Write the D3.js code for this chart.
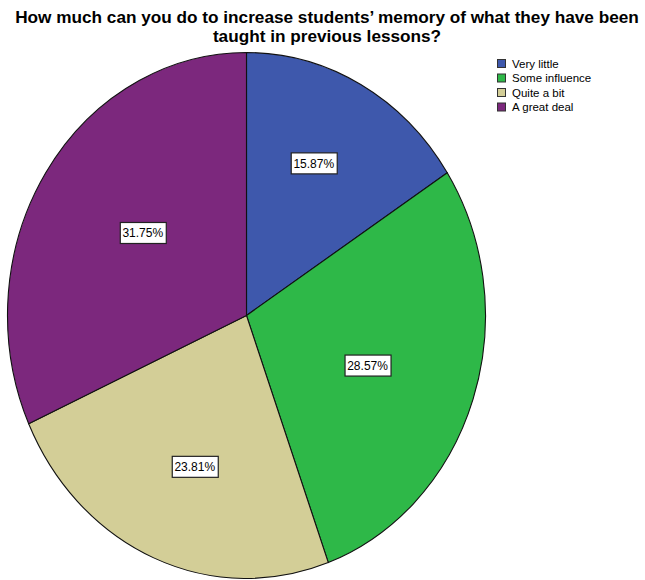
<!DOCTYPE html>
<html>
<head>
<meta charset="utf-8">
<script src="https://cdn.jsdelivr.net/npm/d3@7"></script>
<style>
  html, body { margin: 0; padding: 0; background: #fff; }
  svg { display: block; font-family: "Liberation Sans", Arial, sans-serif; }
</style>
</head>
<body>
<svg id="chart" width="645" height="580"></svg>
<script>
// Survey responses (percent of respondents)
const categories = ["Very little", "Some influence", "Quite a bit", "A great deal"];
const percents = [15.87, 28.57, 23.81, 31.75];
const colors = ["#3E58AC", "#2EB848", "#D3CE97", "#7C287D"];
const titleLines = [
  "How much can you do to increase students\u2019 memory of what they have been",
  "taught in previous lessons?"
];

const svg = d3.select("#chart");

// Title
svg.append("g").selectAll("text")
  .data(titleLines)
  .join("text")
  .attr("x", 327)
  .attr("y", (d, i) => 23 + i * 19)
  .attr("text-anchor", "middle")
  .attr("font-size", 17.2)
  .attr("font-weight", "bold")
  .attr("fill", "#000")
  .text(d => d);

// Pie (drawn as a circle, stretched vertically into an ellipse)
const cx = 246.5, cy = 315.5, rx = 239, ry = 263;
const sy = ry / rx;

const pie = d3.pie().sort(null).value(d => d)
  .startAngle(0).endAngle(2 * Math.PI);
const arcs = pie(percents);
const arc = d3.arc().innerRadius(0).outerRadius(rx);

const pieG = svg.append("g")
  .attr("transform", `translate(${cx},${cy}) scale(1,${sy})`);

pieG.selectAll("path")
  .data(arcs)
  .join("path")
  .attr("d", arc)
  .attr("fill", (d, i) => colors[i])
  .attr("stroke", "#111")
  .attr("stroke-width", 1.1)
  .attr("vector-effect", "non-scaling-stroke");

// Percentage labels in white boxes, placed near each sector's area centroid
const kx = 0.92, ky = 1.03;
const labelG = svg.append("g").attr("transform", `translate(${cx},${cy})`);
const labels = labelG.selectAll("g")
  .data(arcs)
  .join("g")
  .attr("transform", d => {
    const a = (d.startAngle + d.endAngle) / 2;
    const h = (d.endAngle - d.startAngle) / 2;
    const c = (2 / 3) * Math.sin(h) / h;
    const x = Math.sin(a) * rx * c * kx;
    const y = -Math.cos(a) * ry * c * ky;
    return `translate(${x},${y})`;
  });

labels.append("text")
  .attr("text-anchor", "middle")
  .attr("dy", "0.36em")
  .attr("font-size", 12)
  .attr("fill", "#000")
  .text(d => d.data.toFixed(2) + "%");

labels.each(function() {
  const g = d3.select(this);
  const bb = g.select("text").node().getBBox();
  g.insert("rect", "text")
    .attr("x", Math.round(bb.x) - 2.5)
    .attr("y", -10.5)
    .attr("width", Math.round(bb.width) + 5)
    .attr("height", 21)
    .attr("fill", "#fff")
    .attr("stroke", "#222")
    .attr("stroke-width", 1.2);
});

// Legend
const legend = svg.append("g").attr("transform", "translate(497,59)");
const rows = legend.selectAll("g")
  .data(categories)
  .join("g")
  .attr("transform", (d, i) => `translate(0,${i * 14.5})`);

rows.append("rect")
  .attr("x", 0.5).attr("y", 0.5)
  .attr("width", 8).attr("height", 8)
  .attr("fill", (d, i) => colors[i])
  .attr("stroke", "#333")
  .attr("stroke-width", 1);

rows.append("text")
  .attr("x", 15)
  .attr("y", 8.5)
  .attr("font-size", 11.5)
  .attr("fill", "#000")
  .text(d => d);
</script>
</body>
</html>
